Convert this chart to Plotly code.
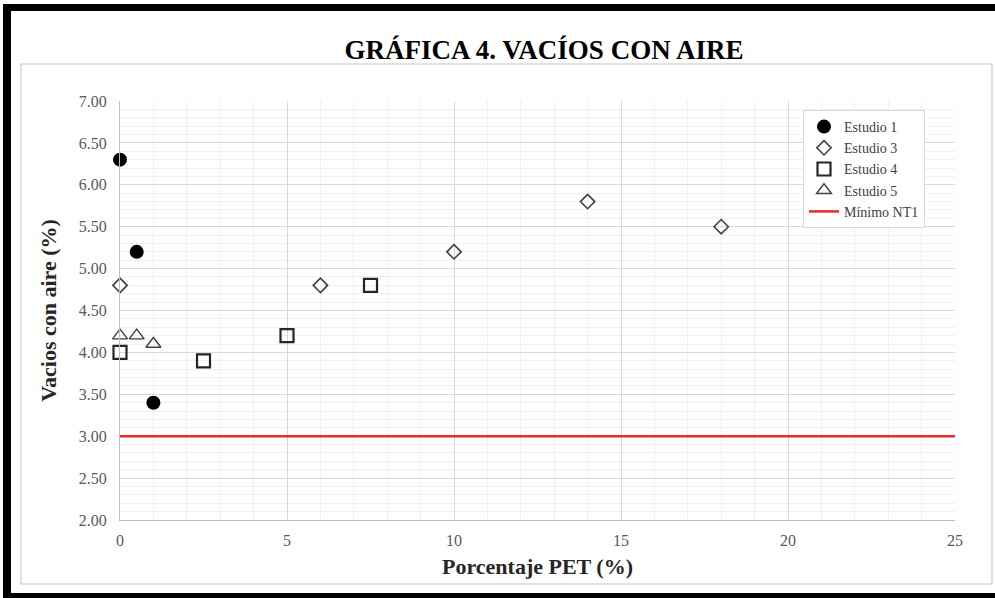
import plotly.graph_objects as go

# Porcentaje de PET (%) y vacíos con aire (%) por estudio
est1_x = [0, 0.5, 1]
est1_y = [6.3, 5.2, 3.4]

est3_x = [0, 6, 10, 14, 18]
est3_y = [4.8, 4.8, 5.2, 5.8, 5.5]

est4_x = [0, 2.5, 5, 7.5]
est4_y = [4.0, 3.9, 4.2, 4.8]

est5_x = [0, 0.5, 1]
est5_y = [4.2, 4.2, 4.1]

minimo_x = [0, 25]
minimo_y = [3.0, 3.0]

W, H = 995, 598
L, R, T, B = 120, 40, 101, 78


def px(x):
    return (x - L) / (W - L - R)


def py(y):
    return (H - B - y) / (H - T - B)


SERIF = "Liberation Serif, Times New Roman, serif"

fig = go.Figure()
fig.add_trace(go.Scatter(
    x=est1_x, y=est1_y, mode="markers", name="Estudio 1",
    marker=dict(symbol="circle", size=14, color="black"),
    cliponaxis=False))
fig.add_trace(go.Scatter(
    x=est3_x, y=est3_y, mode="markers", name="Estudio 3",
    marker=dict(symbol="diamond-open", size=11, color="#404040",
                line=dict(width=1.6, color="#404040")),
    cliponaxis=False))
fig.add_trace(go.Scatter(
    x=est4_x, y=est4_y, mode="markers", name="Estudio 4",
    marker=dict(symbol="square-open", size=13, color="#262626",
                line=dict(width=2.2, color="#262626")),
    cliponaxis=False))
fig.add_trace(go.Scatter(
    x=est5_x, y=est5_y, mode="markers", name="Estudio 5",
    marker=dict(symbol="triangle-up-open", size=13, color="#404040",
                line=dict(width=1.4, color="#404040")),
    cliponaxis=False))
fig.add_trace(go.Scatter(
    x=minimo_x, y=minimo_y, mode="lines", name="Mínimo NT1",
    line=dict(color="#f02828", width=2.5)))

shapes = [
    # chart area border
    dict(type="rect", xref="paper", yref="paper",
         x0=px(21), x1=px(992), y0=py(64), y1=py(584),
         line=dict(color="#d9d9d9", width=1.5), layer="below"),
    # outer black frame
    dict(type="rect", xref="paper", yref="paper",
         x0=px(3), x1=px(11), y0=py(4), y1=py(600),
         fillcolor="black", line=dict(width=0)),
    dict(type="rect", xref="paper", yref="paper",
         x0=px(3), x1=px(1000), y0=py(4), y1=py(11),
         fillcolor="black", line=dict(width=0)),
    dict(type="rect", xref="paper", yref="paper",
         x0=px(3), x1=px(1000), y0=py(593), y1=py(600),
         fillcolor="black", line=dict(width=0)),
]

fig.update_layout(
    width=W, height=H,
    margin=dict(l=L, r=R, t=T, b=B),
    paper_bgcolor="white", plot_bgcolor="white",
    font=dict(family=SERIF, color="#595959"),
    title=dict(text="<b>GRÁFICA 4. VACÍOS CON AIRE</b>",
               xref="container", x=544 / W, xanchor="center",
               yref="container", y=1 - 50 / H, yanchor="middle",
               font=dict(family=SERIF, size=27, color="black")),
    xaxis=dict(range=[0, 25], dtick=5, tick0=0,
               showgrid=True, gridcolor="#d9d9d9", gridwidth=1,
               minor=dict(dtick=1, showgrid=True, gridcolor="#f0f0f0"),
               showline=True, linecolor="#bfbfbf", linewidth=1,
               zeroline=False, ticks="", ticklen=0, ticklabelstandoff=6,
               tickfont=dict(family=SERIF, size=16, color="#595959"),
               title=dict(text="<b>Porcentaje PET (%)</b>", standoff=10,
                          font=dict(family=SERIF, size=22, color="#262626"))),
    yaxis=dict(range=[2, 7], dtick=0.5, tick0=2, tickformat=".2f",
               showgrid=True, gridcolor="#d9d9d9", gridwidth=1,
               minor=dict(dtick=0.1, showgrid=True, gridcolor="#f0f0f0"),
               showline=True, linecolor="#bfbfbf", linewidth=1,
               zeroline=False, ticks="", ticklen=0, ticklabelstandoff=9,
               tickfont=dict(family=SERIF, size=16, color="#595959"),
               title=dict(text="<b>Vacios con aire (%)</b>", standoff=16,
                          font=dict(family=SERIF, size=22, color="#262626"))),
    legend=dict(x=px(803), y=py(110), xanchor="left", yanchor="top",
                bgcolor="white", bordercolor="#d9d9d9", borderwidth=1,
                font=dict(family=SERIF, size=14, color="#404040"),
                tracegroupgap=0, itemwidth=30),
    shapes=shapes,
)

fig.write_html("out.html")
